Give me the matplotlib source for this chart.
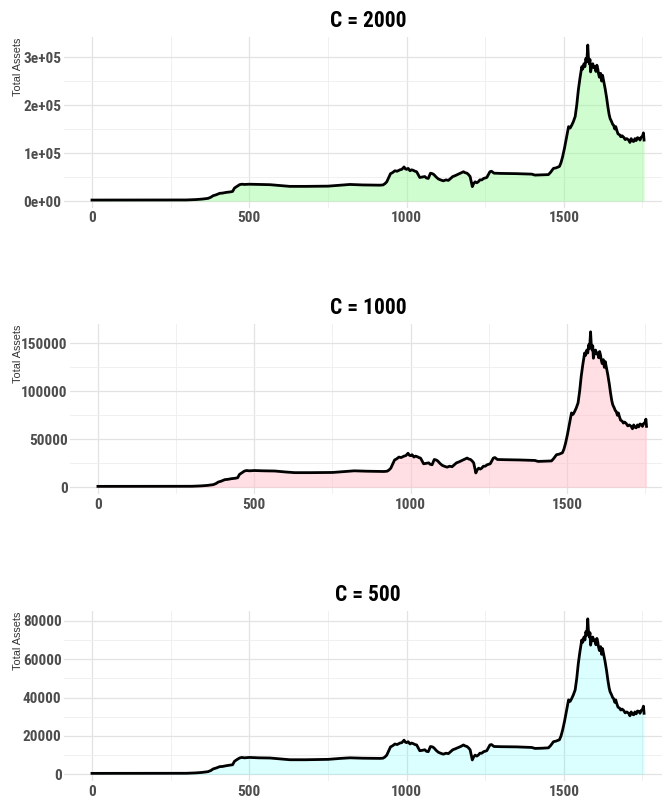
import numpy as np
import matplotlib
matplotlib.use("Agg")
import matplotlib.pyplot as plt
from matplotlib import font_manager
from matplotlib.ticker import MultipleLocator, FuncFormatter

# ---- data (day index, total assets) ----
days = [0, 100, 200, 300, 330, 350, 369, 378, 385, 395, 406, 415, 427, 440, 447, 453,
        462, 469, 476, 485, 500, 530, 566, 600, 629, 680, 751, 790, 820, 860, 915, 925,
        931, 937, 942, 949, 955, 963, 970, 979, 985, 992, 996, 1000, 1005, 1011, 1016,
        1021, 1027, 1032, 1037, 1042, 1050, 1058, 1063, 1069, 1076, 1082, 1087, 1094,
        1101, 1108, 1117, 1125, 1133, 1140, 1147, 1155, 1165, 1172, 1181, 1186, 1192,
        1197, 1202, 1205, 1209, 1213, 1218, 1223, 1228, 1233, 1239, 1245, 1255, 1260,
        1265, 1270, 1278, 1300, 1350, 1398, 1408, 1430, 1451, 1458, 1467, 1475, 1486,
        1491, 1496, 1502, 1507, 1512, 1515, 1520, 1525, 1530, 1536, 1541, 1546, 1551,
        1557, 1560, 1564, 1567, 1570, 1573, 1576, 1578, 1581, 1583, 1585, 1588, 1592,
        1595, 1599, 1602, 1605, 1608, 1610, 1613, 1617, 1620, 1623, 1626, 1628, 1631,
        1636, 1640, 1644, 1647, 1652, 1655, 1658, 1662, 1665, 1668, 1672, 1677, 1681,
        1685, 1690, 1695, 1700, 1706, 1710, 1714, 1718, 1722, 1726, 1730, 1734, 1738,
        1742, 1746, 1750, 1753, 1755]

# C = 2000 (thousands)
assets_2000 = [2, 2, 2, 2.2, 3, 4, 5.5, 8, 11, 13, 16, 16.5, 18, 19, 20, 27,
               31, 34, 35, 34.5, 35, 34.5, 34, 32, 30.5, 30.5, 31, 33, 34.5, 33.5, 33, 33.5,
               36, 40, 47, 57, 59, 63, 62, 65, 66, 71, 67, 66, 68, 63, 65,
               64, 62, 61, 55, 49, 50, 51, 48, 47, 58, 57, 55, 50,
               46, 44, 42, 44, 43, 47, 51, 53, 56, 58, 61, 59, 58,
               55, 51, 42, 30, 36, 40, 38, 40, 44, 44, 47, 49, 55,
               61, 62, 58, 57.5, 57, 56, 54, 54.5, 55, 60, 68, 69, 72,
               80, 92, 110, 127, 145, 155, 152, 158, 165, 176, 200, 231, 255,
               280, 275, 286, 280, 297, 290, 325, 300, 286, 295, 269, 280, 286,
               278, 280, 270, 283, 275, 266, 258, 266, 250, 262, 252, 245, 235,
               215, 196, 180, 172, 165, 160, 158, 150, 155, 148, 140, 138, 134,
               136, 133, 128, 130, 127, 122, 130, 125, 124, 130, 126, 132, 131,
               127, 133, 135, 142, 127]

# C = 1000 (thousands)
assets_1000 = [1, 1, 1, 1.1, 1.5, 2, 2.8, 4, 5.5, 6.5, 8, 8.3, 9, 9.5, 10, 13.5,
               15.5, 17, 17.5, 17.2, 17.5, 17.2, 17, 16, 15.3, 15.3, 15.5, 16.5, 17.2, 16.8, 16.5, 16.8,
               18, 20, 23.5, 28.5, 29.5, 31.5, 31, 32.5, 33, 35.5, 33.5, 33, 34, 31.5, 32.5,
               32, 31, 30.5, 27.5, 24.5, 25, 25.5, 24, 23.5, 29, 28.5, 27.5, 25,
               23, 22, 21, 22, 21.5, 23.5, 25.5, 26.5, 28, 29, 30.5, 29.5, 29,
               27.5, 25.5, 21, 15, 18, 20, 19, 20, 22, 22, 23.5, 24.5, 27.5,
               30.5, 31, 29, 28.8, 28.5, 28, 27, 27.2, 27.5, 30, 34, 34.5, 36,
               40, 46, 55, 63.5, 72.5, 77.5, 76, 79, 82.5, 88, 100, 115.5, 127.5,
               140, 137.5, 143, 140, 148.5, 145, 162, 150, 143, 147.5, 134.5, 140, 143,
               139, 140, 135, 141.5, 137.5, 133, 129, 133, 125, 131, 126, 122.5, 117.5,
               107.5, 98, 90, 86, 82.5, 80, 79, 75, 77.5, 74, 70, 69, 67,
               68, 66.5, 64, 65, 63.5, 61, 65, 62.5, 62, 65, 63, 66, 65.5,
               63.5, 66.5, 67.5, 71, 63.5]

# C = 500 (thousands)
assets_500 = [0.5, 0.5, 0.5, 0.55, 0.75, 1, 1.4, 2, 2.8, 3.3, 4, 4.1, 4.5, 4.8, 5, 6.8,
              7.8, 8.5, 8.8, 8.6, 8.8, 8.6, 8.5, 8, 7.6, 7.6, 7.8, 8.3, 8.6, 8.4, 8.3, 8.4,
              9, 10, 11.8, 14.3, 14.8, 15.8, 15.5, 16.3, 16.5, 17.8, 16.8, 16.5, 17, 15.8, 16.3,
              16, 15.5, 15.3, 13.8, 12.3, 12.5, 12.8, 12, 11.8, 14.5, 14.3, 13.8, 12.5,
              11.5, 11, 10.5, 11, 10.8, 11.8, 12.8, 13.3, 14, 14.5, 15.3, 14.8, 14.5,
              13.8, 12.8, 10.5, 7.5, 9, 10, 9.5, 10, 11, 11, 11.8, 12.3, 13.8,
              15.3, 15.5, 14.5, 14.4, 14.3, 14, 13.5, 13.6, 13.8, 15, 17, 17.3, 18,
              20, 23, 27.5, 31.8, 36.3, 38.8, 38, 39.5, 41.3, 44, 50, 57.8, 63.8,
              70, 68.8, 71.5, 70, 74.3, 72.5, 81, 75, 71.5, 73.8, 67.3, 70, 71.5,
              69.5, 70, 67.5, 70.8, 68.8, 66.5, 64.5, 66.5, 62.5, 65.5, 63, 61.3, 58.8,
              53.8, 49, 45, 43, 41.3, 40, 39.5, 37.5, 38.8, 37, 35, 34.5, 33.5,
              34, 33.3, 32, 32.5, 31.8, 30.5, 32.5, 31.3, 31, 32.5, 31.5, 33, 32.8,
              31.8, 33.3, 33.8, 35.5, 31.8]

titles = ["C = 2000", "C = 1000", "C = 500"]

# 找一个窄体字体，没有就用 DejaVu 的 condensed
installed = {f.name for f in font_manager.fontManager.ttflist}
narrow = next((c for c in ["Liberation Sans Narrow", "Arial Narrow", "Roboto Condensed",
                           "Open Sans Condensed"] if c in installed), None)
if narrow:
    NARROW = dict(family=[narrow, "DejaVu Sans"], fontstretch="normal")
    tick_size, title_size = 11, 15.5
else:
    NARROW = dict(family=["DejaVu Sans"], fontstretch="condensed")
    tick_size, title_size = 9.3, 14
REG = ["Liberation Sans", "DejaVu Sans"]

W, H = 662, 799
fig = plt.figure(figsize=(W / 100, H / 100), dpi=100, facecolor="white")


def px_axes(left, top, right, bottom):
    return fig.add_axes([left / W, 1 - bottom / H, (right - left) / W, (bottom - top) / H])


# panel geometry in pixels: (left, top, right, bottom)
panels = [
    dict(box=(64.3, 37.3, 662, 207.8), xlim=(-88, 1812), ylim=(-14150, 341150),
         major=100000, minor=50000, fmt=lambda v, p: f"{int(round(v / 1e5))}e+05" if v else "0e+00",
         fill="palegreen", alpha=0.45, ty=20.7),
    dict(box=(70.4, 324.1, 662, 494.1), xlim=(-88, 1804.5), ylim=(-7050, 170050),
         major=50000, minor=25000, fmt=lambda v, p: f"{int(v)}",
         fill="pink", alpha=0.5, ty=308),
    dict(box=(64.3, 611.1, 662, 781.1), xlim=(-88, 1812), ylim=(-3525, 85025),
         major=20000, minor=10000, fmt=lambda v, p: f"{int(v)}",
         fill="#00FFFF", alpha=0.14, ty=595),
]
series = [assets_2000, assets_1000, assets_500]

for p, vals, title in zip(panels, series, titles):
    ax = px_axes(*p["box"])
    x = np.array(days)
    y = np.array(vals) * 1000
    ax.fill_between(x, 0, y, color=p["fill"], alpha=p["alpha"], linewidth=0, zorder=2)
    ax.plot(x, y, color="black", linewidth=2.0, zorder=3)
    ax.set_xlim(*p["xlim"])
    ax.set_ylim(*p["ylim"])
    ax.xaxis.set_major_locator(MultipleLocator(500))
    ax.xaxis.set_minor_locator(MultipleLocator(250))
    ax.yaxis.set_major_locator(MultipleLocator(p["major"]))
    ax.yaxis.set_minor_locator(MultipleLocator(p["minor"]))
    ax.yaxis.set_major_formatter(FuncFormatter(p["fmt"]))
    ax.grid(which="major", color="#E3E3E3", linewidth=0.9, zorder=0)
    ax.grid(which="minor", color="#EEEEEE", linewidth=0.6, zorder=0)
    ax.set_axisbelow(True)
    for s in ax.spines.values():
        s.set_visible(False)
    ax.tick_params(which="both", length=0)
    ax.tick_params(axis="y", pad=2)
    ax.tick_params(axis="x", pad=2.5)
    for lab in ax.get_xticklabels() + ax.get_yticklabels():
        lab.set_family(NARROW["family"])
        lab.set_fontstretch(NARROW["fontstretch"])
        lab.set_fontweight("bold")
        lab.set_fontsize(tick_size)
        lab.set_color("#4D4D4D")
    fig.text(368 / W, 1 - p["ty"] / H, title, ha="center", va="center",
             fontsize=title_size, fontweight="bold", color="black", **NARROW)
    fig.text(18 / W, 1 - (p["box"][1] + 0.5) / H, "Total Assets", rotation=90,
             ha="center", va="top", fontsize=7.8, family=REG, color="#333333")

fig.savefig("out.png", dpi=100, facecolor="white")
